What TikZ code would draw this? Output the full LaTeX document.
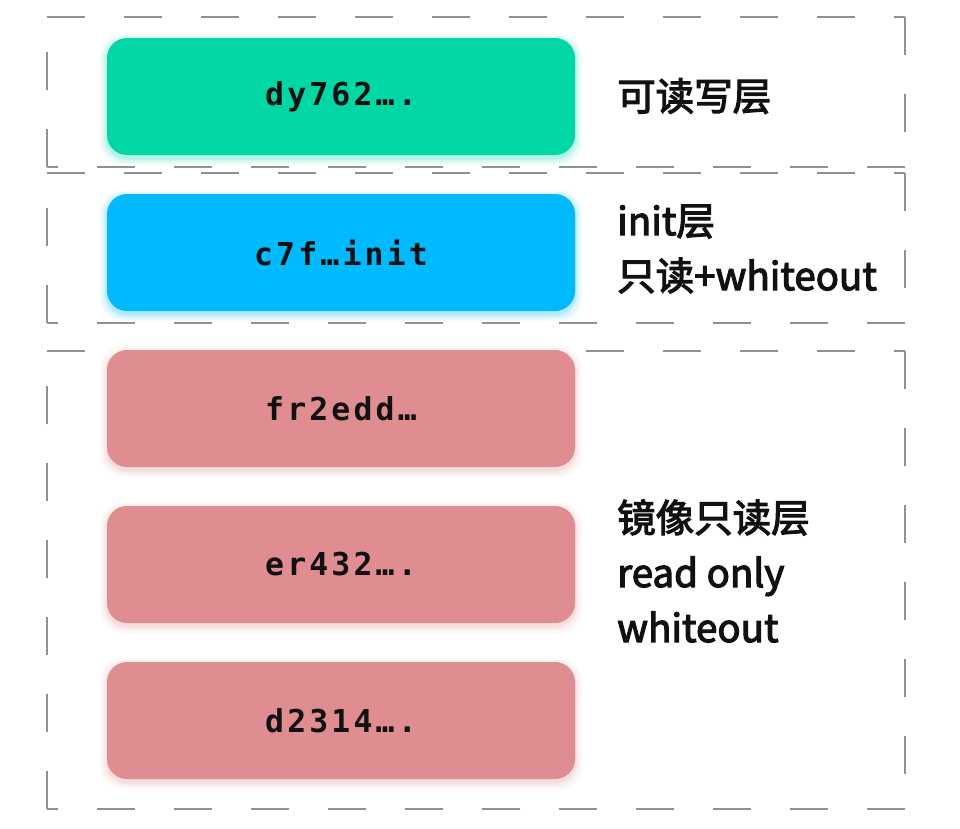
\documentclass[tikz,border=0pt]{standalone}
\usepackage{fontspec}
\newfontfamily\cjk{Noto Sans CJK SC}[FakeBold=3]
\newfontfamily\monof{DejaVu Sans Mono}[LetterSpace=10]
\definecolor{cgreen}{RGB}{0,215,165}
\definecolor{cblue}{RGB}{0,185,255}
\definecolor{cred}{RGB}{223,141,145}
\definecolor{cdash}{RGB}{145,145,145}
\definecolor{ctext}{RGB}{17,17,17}
\newcommand{\layerbox}[4]{%
  \foreach \s/\o in {7/0.05,5/0.07,3/0.09,1.5/0.12}{%
    \fill[#2, opacity=\o, rounded corners=22pt] (107-\s,#3-\s+3) rectangle (575+\s,#3+117+\s+3);}
  \node[layer, fill=#2] (#1) at (341,#3+58.5) {#4};}
\begin{document}
\begin{tikzpicture}[x=1pt,y=-1pt,
  layer/.style={rounded corners=20pt, minimum width=468pt, minimum height=117pt, inner sep=0pt,
    font=\monof\bfseries\fontsize{31.5}{38}\selectfont, text=ctext},
  lbl/.style={anchor=west, align=left, inner sep=0pt, text=ctext,
    font=\cjk\fontsize{38.5}{55}\selectfont},
  dashline/.style={draw=cdash, line width=2pt, dash pattern=on 38pt off 39pt}]
\useasboundingbox (0,0) rectangle (960,828);
% dashed frames
\foreach \T/\B in {17/167,173/323,351/809}{
  \draw[dashline] (47,\T) -- (905,\T);
  \draw[dashline] (905,\T) -- (905,\B);
  \draw[dashline] (905,\B) -- (47,\B);
  \draw[dashline] (47,\B) -- (47,\T);
}
% layers
\layerbox{rw}{cgreen}{38}{dy762….}
\layerbox{init}{cblue}{194}{c7f…init}
\layerbox{img1}{cred}{350}{fr2edd…}
\layerbox{img2}{cred}{506}{er432….}
\layerbox{img3}{cred}{662}{d2314….}
% labels
\node[lbl] (lrw) at (617,96) {可读写层};
\node[lbl] (linit) at (617,249) {init层\\只读+whiteout};
\node[lbl] (limg) at (617,571) {镜像只读层\\read only\\whiteout};
\end{tikzpicture}
\end{document}
